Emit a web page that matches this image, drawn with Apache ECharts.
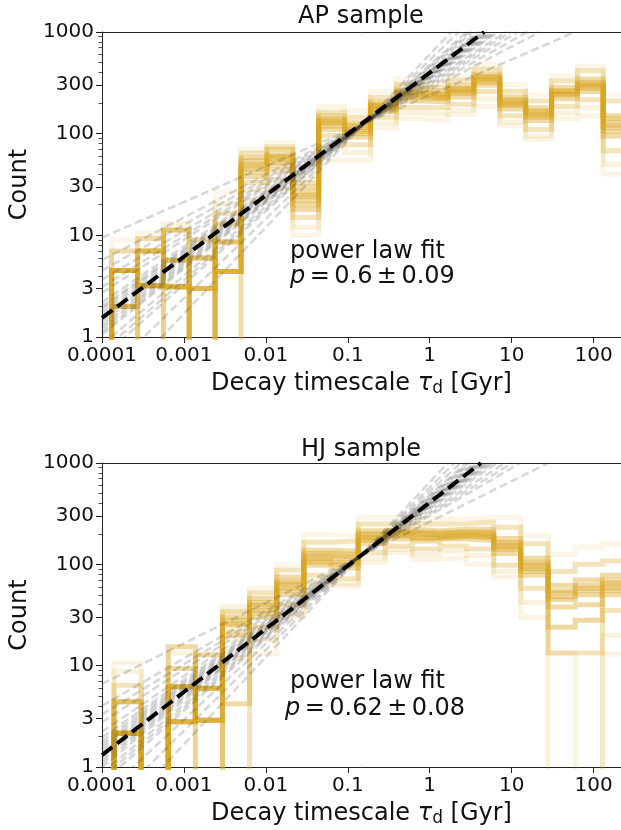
<!DOCTYPE html>
<html><head><meta charset="utf-8">
<script src="https://cdn.jsdelivr.net/npm/echarts@6/dist/echarts.min.js"></script>
<style>html,body{margin:0;padding:0;background:#fff}#c{width:621px;height:830px}</style>
</head><body><div id="c"></div>
<script>
// ---- tick values / labels ----
const xTickValues = [1e-4, 1e-3, 1e-2, 0.1, 1, 10, 100];
const xTickLabels = ['0.0001', '0.001', '0.01', '0.1', '1', '10', '100'];
const yTickValues = [1, 3, 10, 30, 100, 300, 1000];
const yTickLabels = ['1', '3', '10', '30', '100', '300', '1000'];
const yMinorTicks = [2, 4, 5, 6, 7, 8, 9, 20, 40, 50, 60, 70, 80, 90, 200, 400, 500, 600, 700, 800, 900];

// ---- AP sample: bin edges (Gyr) and counts of 12 resampled histograms per bin ----
const apEdges = [1.31e-4, 2.72e-4, 5.62e-4, 1.16e-3, 2.40e-3, 4.98e-3, 0.0103, 0.0213, 0.0441, 0.0912, 0.189, 0.391, 0.809, 1.67, 3.46, 7.16, 14.8, 30.7, 63.4, 131, 272];
const apBinCounts = [
  [4.5, 4.5, 2, 4.5, 7, 2, 4.5, 0, 4.5, 9, 2, 7],
  [3.2, 7, 3.2, 3.2, 9.3, 0, 3.2, 7, 3.2, 10.5, 7, 9.3],
  [3.1, 5.7, 3.1, 11.3, 0, 3.1, 5.7, 3.1, 13, 3.1, 11.3, 5.7],
  [0, 3, 6, 0, 3, 6, 3, 0, 6, 3, 9, 0],
  [4.4, 8.6, 4.4, 13, 0, 16.4, 4.4, 8.6, 20.6, 26.7, 4.4, 0],
  [45, 50, 38, 58, 33, 64, 42, 54, 28, 70, 48, 22],
  [55, 62, 48, 70, 43, 74, 52, 60, 35, 82, 58, 28],
  [22, 25, 18, 30, 15, 33, 20, 27, 12, 38, 24, 10],
  [125, 135, 110, 150, 96, 163, 118, 140, 75, 185, 130, 55],
  [105, 115, 92, 128, 78, 145, 100, 120, 65, 170, 110, 55],
  [180, 190, 165, 205, 145, 228, 175, 195, 128, 260, 185, 115],
  [235, 250, 210, 270, 180, 305, 225, 255, 160, 345, 240, 140],
  [225, 240, 205, 260, 180, 285, 220, 245, 155, 315, 230, 135],
  [255, 275, 230, 300, 195, 335, 250, 280, 170, 370, 265, 155],
  [335, 355, 300, 385, 260, 430, 320, 365, 220, 480, 345, 185],
  [195, 210, 175, 230, 150, 262, 190, 215, 130, 305, 200, 120],
  [150, 162, 135, 180, 110, 210, 145, 168, 95, 240, 155, 88],
  [245, 260, 220, 285, 185, 330, 240, 265, 160, 370, 250, 140],
  [290, 310, 260, 345, 215, 415, 280, 320, 180, 460, 300, 150],
  [115, 130, 95, 150, 68, 210, 105, 140, 50, 240, 120, 40]
];
// power-law fits: best fit endpoints, and samples as [count at 1e-4 Gyr, tau where count = 1000]
const apBestFit = [[1e-4, 1.54], [4.62, 1000]];
const apFitSamples = [[9.5, 59], [5.7, 22], [4.5, 15.5], [3.66, 11.9], [3.1, 9.8], [2.73, 8.5], [2.19, 6.9], [2.0, 6.4], [1.89, 6.0], [1.75, 5.6], [1.63, 5.3], [1.52, 5.0], [1.41, 4.7], [1.3, 4.45], [1.21, 4.25], [1.12, 4.05], [1.05, 3.85], [0.84, 3.34], [0.72, 3.05], [0.63, 2.82], [0.40, 2.26], [0.24, 1.82]];

// ---- HJ sample ----
const hjEdges = [1.40e-4, 3.00e-4, 6.43e-4, 1.38e-3, 2.95e-3, 6.32e-3, 0.0136, 0.0291, 0.0624, 0.134, 0.286, 0.614, 1.32, 2.82, 6.04, 12.9, 27.8, 59.6, 128, 274];
const hjBinCounts = [
  [2.15, 2.15, 4.4, 2.15, 6.4, 2.15, 4.4, 2.15, 8.7, 4.4, 2.15, 10.6],
  [0, 0, 0, 0, 0, 0, 0, 0, 0, 0, 0, 0],
  [2.8, 6.2, 2.8, 6.2, 9.4, 2.8, 6.2, 2.8, 13.3, 6.2, 15.4, 9.4],
  [6, 2.9, 6, 0, 2.9, 6, 2.9, 12.8, 6, 0, 2.9, 6],
  [25, 30, 20, 34, 0, 22, 28, 4.2, 38, 18, 26, 12],
  [35, 40, 30, 46, 24, 52, 33, 42, 18, 58, 38, 13],
  [58, 65, 50, 75, 40, 88, 55, 68, 33, 100, 62, 30],
  [110, 122, 98, 138, 78, 165, 105, 128, 68, 198, 115, 62],
  [105, 118, 92, 135, 72, 170, 100, 125, 64, 192, 112, 60],
  [180, 195, 160, 215, 130, 250, 172, 200, 115, 290, 185, 104],
  [195, 205, 178, 222, 152, 252, 190, 210, 140, 290, 200, 130],
  [185, 198, 170, 215, 142, 250, 180, 205, 125, 282, 192, 112],
  [192, 205, 178, 222, 152, 252, 188, 210, 135, 282, 198, 116],
  [188, 202, 172, 222, 142, 262, 182, 208, 122, 290, 195, 100],
  [145, 160, 128, 180, 98, 232, 140, 165, 85, 290, 152, 75],
  [90, 100, 78, 115, 58, 160, 85, 105, 42, 192, 95, 30],
  [45, 52, 38, 62, 13.3, 85, 24, 55, 0, 125, 48, 13.3],
  [50, 58, 40, 70, 13.3, 100, 28, 62, 0, 148, 55, 0],
  [58, 65, 50, 78, 35, 108, 55, 70, 20, 160, 62, 13]
];
const hjBestFit = [[1e-4, 1.31], [4.22, 1000]];
const hjFitSamples = [[6.6, 28], [4.0, 12.8], [3.3, 10.2], [2.77, 8.3], [2.23, 6.65], [1.95, 5.9], [1.79, 5.45], [1.66, 5.1], [1.55, 4.82], [1.44, 4.55], [1.34, 4.31], [1.25, 4.1], [1.16, 3.87], [1.08, 3.68], [1.0, 3.5], [0.87, 3.18], [0.78, 2.98], [0.70, 2.79], [0.52, 2.38], [0.36, 2.0], [0.23, 1.66]];

const titles = ['AP sample', 'HJ sample'];
const fitLabel = 'power law fit';
const fitValues = ['0.6 ± 0.09', '0.62 ± 0.08'];

// ---- styling ----
const FONT = 'DejaVu Sans';
const GOLD_RGB = '218,165,32';
const realOpacity = [0.42, 0.42, 0.4, 0.4, 0.3, 0.3, 0.42, 0.4, 0.15, 0.1, 0.4, 0.12];
const ZERO_FLOOR = 0.01; // empty bins drop below the axis (log scale)
const X_MAX = 216;

function labelFor(values, labels) {
  return function (v) {
    for (let i = 0; i < values.length; i++) {
      if (Math.abs(Math.log10(v) - Math.log10(values[i])) < 1e-6) return labels[i];
    }
    return '';
  };
}

function stepPoints(edges, vals) {
  const pts = [[edges[0], ZERO_FLOOR]];
  vals.forEach((v, k) => {
    const y = v > 0 ? v : ZERO_FLOOR;
    pts.push([edges[k], y], [edges[k + 1], y]);
  });
  pts.push([edges[vals.length], ZERO_FLOOR]);
  return pts;
}

const grids = [
  { left: 102, right: 0, top: 32, height: 305 },
  { left: 102, right: 0, top: 463, height: 304 }
];

const xAxes = [], yAxes = [], series = [];
[0, 1].forEach(g => {
  xAxes.push({
    type: 'log', gridIndex: g, min: 1e-4, max: X_MAX, logBase: 10,
    axisLine: { show: true, onZero: false, lineStyle: { color: '#222', width: 1 } },
    axisTick: { show: true, length: 6, customValues: xTickValues, lineStyle: { color: '#222', width: 1 } },
    axisLabel: { customValues: xTickValues, formatter: labelFor(xTickValues, xTickLabels), fontSize: 20, fontFamily: FONT, color: '#111', margin: 9 },
    splitLine: { show: false },
    name: 'Decay timescale {it|τ}{sub|d} [Gyr]', nameLocation: 'middle', nameGap: 33,
    nameTextStyle: { fontSize: 24, fontFamily: FONT, color: '#111',
      rich: { it: { fontSize: 24, fontFamily: FONT, fontStyle: 'italic', color: '#111' },
              sub: { fontSize: 17, fontFamily: FONT, color: '#111', verticalAlign: 'bottom', padding: [10, 0, 0, 0] } } }
  });
  xAxes.push({
    type: 'value', gridIndex: g, position: 'top', min: 0, max: 1,
    axisLine: { show: true, onZero: false, lineStyle: { color: '#222', width: 1 } },
    axisTick: { show: false }, axisLabel: { show: false }, splitLine: { show: false }
  });
  yAxes.push({
    type: 'log', gridIndex: g, min: 1, max: 1000, logBase: 10,
    axisLine: { show: true, onZero: false, lineStyle: { color: '#222', width: 1 } },
    axisTick: { show: true, length: 6, customValues: yTickValues, lineStyle: { color: '#222', width: 1 } },
    axisLabel: { customValues: yTickValues, formatter: labelFor(yTickValues, yTickLabels), fontSize: 20, fontFamily: FONT, color: '#111', margin: 8 },
    splitLine: { show: false },
    name: 'Count', nameLocation: 'middle', nameGap: 70,
    nameTextStyle: { fontSize: 24, fontFamily: FONT, color: '#111' }
  });
  yAxes.push({
    type: 'log', gridIndex: g, min: 1, max: 1000, logBase: 10, position: 'left',
    axisLine: { show: false },
    axisTick: { show: true, length: 3.5, customValues: yMinorTicks, lineStyle: { color: '#222', width: 0.8 } },
    axisLabel: { show: false }, splitLine: { show: false }
  });
});

function addPanel(g, edges, binCounts, fitSamples, bestFit) {
  const nReal = binCounts[0].length;
  for (let r = 0; r < nReal; r++) {
    const vals = binCounts.map(row => row[r]);
    series.push({
      type: 'line', xAxisIndex: 2 * g, yAxisIndex: 2 * g, data: stepPoints(edges, vals),
      showSymbol: false, symbol: 'none', silent: true, clip: true, z: 2,
      lineStyle: { color: 'rgba(' + GOLD_RGB + ',' + realOpacity[r] + ')', width: 5, join: 'miter', cap: 'butt' }
    });
  }
  fitSamples.forEach(s => {
    series.push({
      type: 'line', xAxisIndex: 2 * g, yAxisIndex: 2 * g,
      data: [[1e-4, s[0]], [s[1], 1000]],
      showSymbol: false, symbol: 'none', silent: true, clip: true, z: 3,
      lineStyle: { color: 'rgba(60,60,60,0.2)', width: 2.6, type: [8, 4] }
    });
  });
  series.push({
    type: 'line', xAxisIndex: 2 * g, yAxisIndex: 2 * g, data: bestFit,
    showSymbol: false, symbol: 'none', silent: true, clip: true, z: 5,
    lineStyle: { color: '#000', width: 4, type: [13, 6] }
  });
}
addPanel(0, apEdges, apBinCounts, apFitSamples, apBestFit);
addPanel(1, hjEdges, hjBinCounts, hjFitSamples, hjBestFit);

const plainText = (text, x, y) => ({
  type: 'text', x: x, y: y, silent: true,
  style: { text: text, fontSize: 24, fontFamily: FONT, fill: '#111', align: 'left', verticalAlign: 'middle' }
});
const richLine = (val, x, y) => {
  const parts = val.split(' ± ');
  return {
    type: 'text', x: x, y: y, silent: true,
    style: {
      text: '{i|p}{sp| }={sp| }' + parts[0] + '{sp| }±{sp| }' + parts[1],
      fontSize: 24, fontFamily: FONT, fill: '#111', align: 'left', verticalAlign: 'middle',
      rich: {
        i: { fontStyle: 'italic', fontSize: 24, fontFamily: FONT, fill: '#111' },
        sp: { fontSize: 14, fontFamily: FONT, fill: '#111' }
      }
    }
  };
};

const chart = echarts.init(document.getElementById('c'), null, { renderer: 'canvas' });
chart.setOption({
  animation: false,
  backgroundColor: '#fff',
  title: [
    { text: titles[0], left: 361, top: 5, textAlign: 'center', padding: 0, textStyle: { fontSize: 24, fontWeight: 'normal', fontFamily: FONT, color: '#111' } },
    { text: titles[1], left: 361, top: 438, textAlign: 'center', padding: 0, textStyle: { fontSize: 24, fontWeight: 'normal', fontFamily: FONT, color: '#111' } }
  ],
  grid: grids,
  xAxis: xAxes,
  yAxis: yAxes,
  series: series,
  graphic: [
    plainText(fitLabel, 290, 252),
    richLine(fitValues[0], 290, 277),
    plainText(fitLabel, 290, 682),
    richLine(fitValues[1], 285, 709)
  ]
});
</script>
</body></html>
